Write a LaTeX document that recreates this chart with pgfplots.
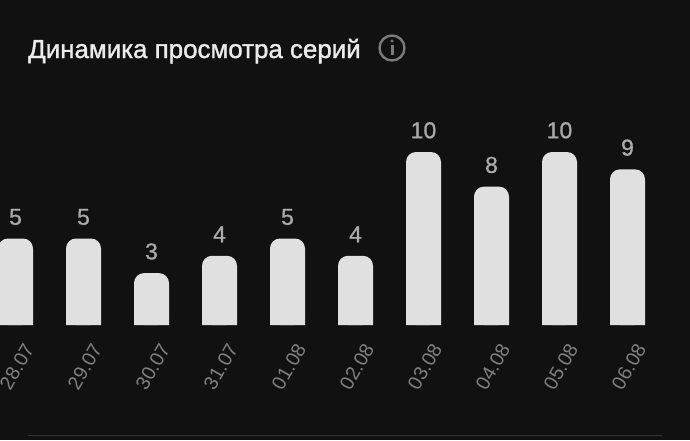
\documentclass[border=0pt]{standalone}
\usepackage{pgfplots}
\pgfplotsset{compat=1.18}
\usepackage{fontspec}
\setmainfont{Liberation Sans}
\newfontfamily\titlefont[FakeBold=1.4]{Liberation Sans}
\newfontfamily\valfont[FakeBold=0.8]{Liberation Sans}
\definecolor{bg}{HTML}{111112}
\definecolor{barc}{HTML}{E0E0E0}
\definecolor{val}{HTML}{ABABAB}
\definecolor{tick}{HTML}{808080}
\definecolor{icon}{HTML}{7A7A7A}
\definecolor{rule}{HTML}{333333}
\begin{document}
\begin{tikzpicture}[x=1pt,y=1pt]
\useasboundingbox (0,-115) rectangle (690,325);
\fill[bg] (0,-115) rectangle (690,325);
\begin{axis}[
  at={(0,0)}, anchor=south west,
  scale only axis, width=690pt, height=325pt,
  xmin=-0.227941, xmax=9.919118, ymin=0, ymax=18.786,
  clip=false,
  axis line style={draw=none},
  major tick length=0pt,
  ytick=\empty,
  xtick={0,1,2,3,4,5,6,7,8,9},
  xticklabels={28.07,29.07,30.07,31.07,01.08,02.08,03.08,04.08,05.08,06.08},
  xticklabel style={rotate=60, anchor=north east, font=\fontsize{19.5}{19.5}\selectfont, text=tick, xshift=-11pt, yshift=-15pt, inner sep=0pt},
  ybar, bar shift=0pt, bar width=35pt,
  /pgf/number format/assume math mode=true,
]
\addplot[draw=none, fill=barc, rounded corners=10pt,
  nodes near coords, every node near coord/.append style={font=\valfont\fontsize{23}{23}\selectfont, text=val, yshift=10pt}]
  coordinates {(0,5)(1,5)(2,3)(3,4)(4,5)(5,4)(6,10)(7,8)(8,10)(9,9)};
\addplot[draw=none, fill=barc, forget plot, bar width=35pt]
  coordinates {(0,0.6)(1,0.6)(2,0.6)(3,0.6)(4,0.6)(5,0.6)(6,0.6)(7,0.6)(8,0.6)(9,0.6)};
\end{axis}
\node[anchor=base west, inner sep=0pt, text=white!92!black] at (28,267) {\titlefont\fontsize{25.9}{25.9}\selectfont Динамика просмотра серий};
\draw[icon, line width=2.4pt] (392,277) circle (12.5);
\fill[icon] (392,284) circle (1.7);
\fill[icon] (390.5,270.5) rectangle (393.5,280.5);
\draw[rule, line width=0.8pt] (28,-110) -- (662,-110);
\end{tikzpicture}
\end{document}
